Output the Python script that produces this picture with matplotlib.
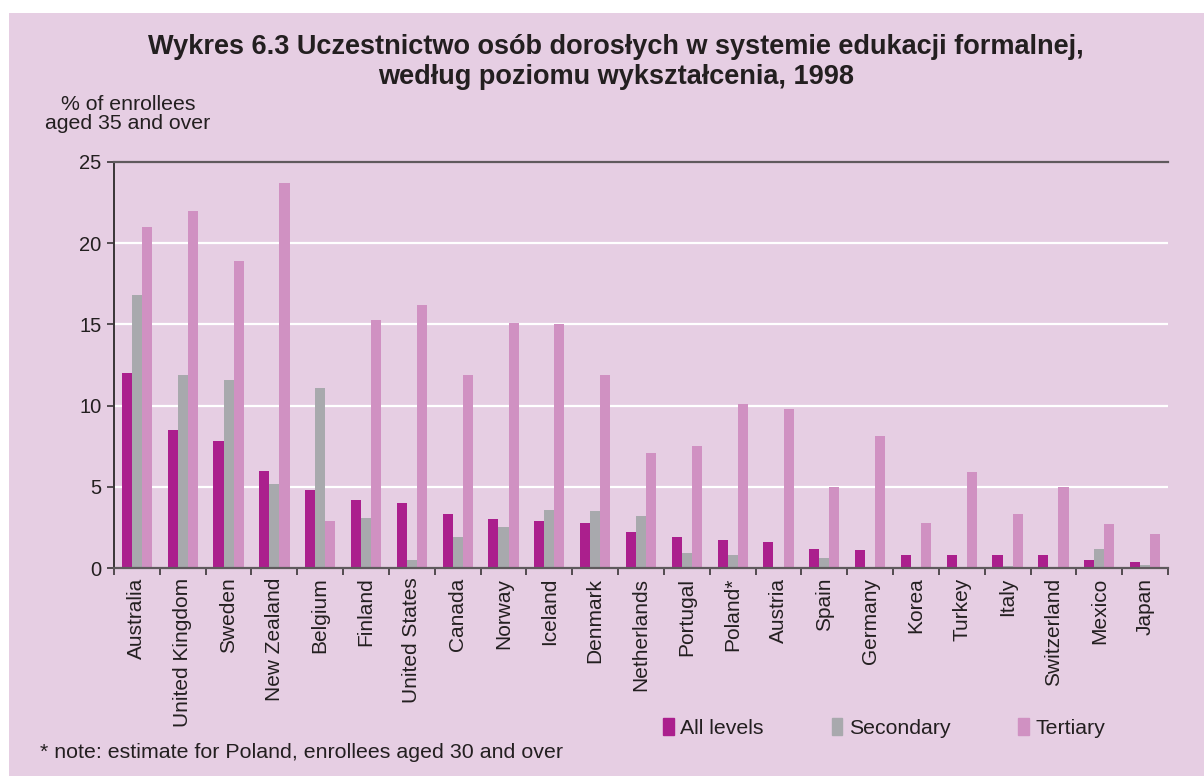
import numpy as np
import matplotlib.pyplot as plt
from matplotlib.patches import Patch, Rectangle

# data
countries = ['Australia', 'United Kingdom', 'Sweden', 'New Zealand', 'Belgium',
             'Finland', 'United States', 'Canada', 'Norway', 'Iceland', 'Denmark',
             'Netherlands', 'Portugal', 'Poland*', 'Austria', 'Spain', 'Germany',
             'Korea', 'Turkey', 'Italy', 'Switzerland', 'Mexico', 'Japan']
all_levels = [12.0, 8.5, 7.8, 6.0, 4.8, 4.2, 4.0, 3.3, 3.0, 2.9, 2.8, 2.2, 1.9,
              1.7, 1.6, 1.2, 1.1, 0.8, 0.8, 0.8, 0.8, 0.5, 0.4]
secondary = [16.8, 11.9, 11.6, 5.2, 11.1, 3.1, 0.5, 1.9, 2.5, 3.6, 3.5, 3.2, 0.9,
             0.8, 0.0, 0.6, 0.0, 0.0, 0.0, 0.1, 0.0, 1.2, 0.2]
tertiary = [21.0, 22.0, 18.9, 23.7, 2.9, 15.3, 16.2, 11.9, 15.1, 15.0, 11.9, 7.1,
            7.5, 10.1, 9.8, 5.0, 8.1, 2.8, 5.9, 3.3, 5.0, 2.7, 2.1]
series_names = ['All levels', 'Secondary', 'Tertiary']
yticks = [0, 5, 10, 15, 20, 25]

c_all = '#AB1F8D'
c_sec = '#A8A9AD'
c_ter = '#D091C2'
bg = '#E6CEE3'
txt = '#231F20'

plt.rcParams['font.family'] = ['Liberation Sans', 'DejaVu Sans']

fig = plt.figure(figsize=(12.04, 7.76), dpi=100)
fig.patch.set_facecolor('white')
fig.add_artist(Rectangle((9 / 1204, 0), 1, 1 - 13 / 776, transform=fig.transFigure,
                         facecolor=bg, edgecolor='none', zorder=0))

ax = fig.add_axes([114 / 1204, 1 - 568 / 776, 1054 / 1204, 406 / 776])
ax.set_facecolor(bg)

x = np.arange(len(countries)) + 0.5
w = 0.22
ax.bar(x - w, all_levels, w, color=c_all, zorder=3)
ax.bar(x, secondary, w, color=c_sec, zorder=3)
ax.bar(x + w, tertiary, w, color=c_ter, zorder=3)

ax.set_xlim(0, len(countries))
ax.set_ylim(0, 25)
ax.set_yticks(yticks)
ax.set_yticklabels([str(v) for v in yticks], fontsize=14.5, color=txt)
for v in yticks[1:-1]:
    ax.axhline(v, color='white', lw=1.6, zorder=1)
ax.axhline(25, color='#5F5A5D', lw=1.6, zorder=4, clip_on=False)

# ticks between categories, labels at centres
ax.set_xticks(np.arange(len(countries) + 1))
ax.set_xticklabels([])
ax.set_xticks(x, minor=True)
ax.set_xticklabels(countries, minor=True, rotation=90, fontsize=15, color=txt,
                   va='top', ha='center')
ax.tick_params(axis='x', which='minor', length=0, pad=7)
ax.tick_params(axis='x', which='major', length=5, width=1.2, color='#3A3537')
ax.tick_params(axis='y', length=5, width=1.2, color='#3A3537', pad=4)

for s in ['top', 'right']:
    ax.spines[s].set_visible(False)
ax.spines['left'].set_color('#3A3537')
ax.spines['left'].set_linewidth(1.4)
ax.spines['bottom'].set_color('#5F5A5D')
ax.spines['bottom'].set_linewidth(1.6)
ax.spines['bottom'].set_zorder(5)

fig.text(616 / 1204, 1 - 47 / 776, 'Wykres 6.3 Uczestnictwo osób dorosłych w systemie edukacji formalnej,',
         ha='center', va='center', fontsize=19.5, fontweight='bold', color=txt)
fig.text(616 / 1204, 1 - 77 / 776, 'według poziomu wykształcenia, 1998',
         ha='center', va='center', fontsize=19.5, fontweight='bold', color=txt)
fig.text(128 / 1204, 1 - 114 / 776, '% of enrollees\naged 35 and over',
         ha='center', va='center', fontsize=15.3, color=txt, linespacing=1.0)
fig.text(40 / 1204, 1 - 752 / 776, '* note: estimate for Poland, enrollees aged 30 and over',
         ha='left', va='center', fontsize=15.4, color=txt)

handles = [Patch(color=c) for c in (c_all, c_sec, c_ter)]
fig.legend(handles, series_names, ncol=3, frameon=False, fontsize=15.3,
           loc='center left', bbox_to_anchor=(644 / 1204, 1 - 728 / 776),
           handlelength=0.5, handleheight=0.8, handletextpad=0.3,
           columnspacing=3.2, labelcolor=txt)

fig.savefig('out.png', dpi=100, facecolor='white')
